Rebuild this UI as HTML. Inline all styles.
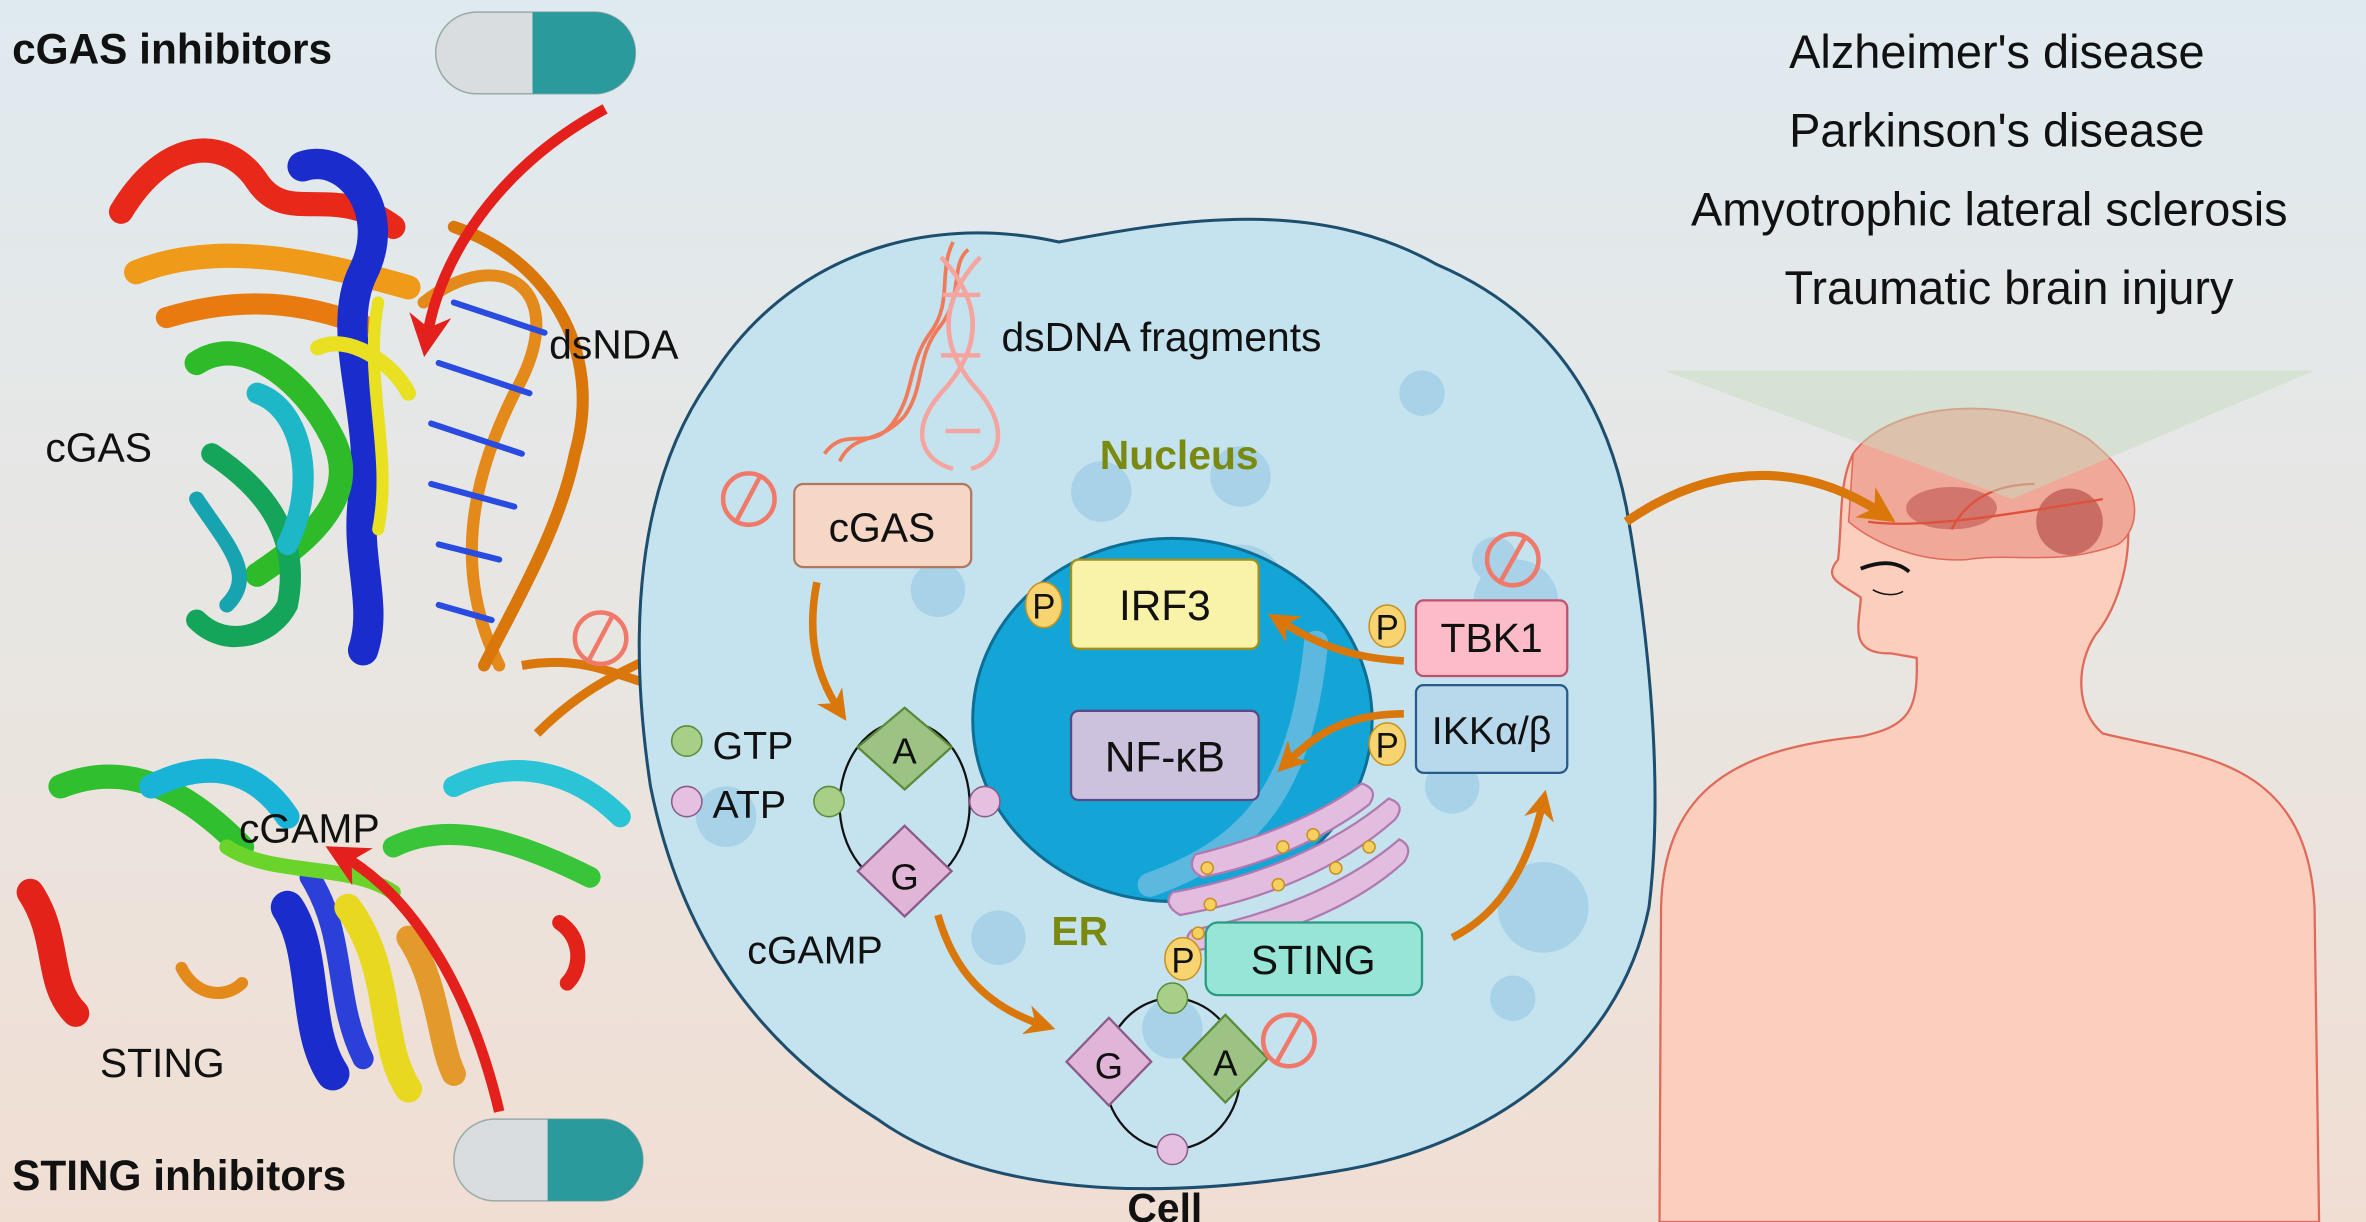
<!DOCTYPE html>
<html><head><meta charset="utf-8"><style>
html,body{margin:0;padding:0;width:2366px;height:1222px;overflow:hidden}
svg{display:block}
text{font-family:"Liberation Sans",sans-serif}
</style></head><body>
<svg width="2366" height="1222" viewBox="0 0 1564 808" preserveAspectRatio="none" xmlns="http://www.w3.org/2000/svg">
<defs>
<linearGradient id="bg" x1="0" y1="0" x2="0" y2="1">
<stop offset="0" stop-color="#dfeaf0"/><stop offset="0.5" stop-color="#e8e6e2"/><stop offset="1" stop-color="#f1ded3"/>
</linearGradient>
<marker id="ar" viewBox="0 0 10 10" refX="6" refY="5" markerWidth="4" markerHeight="4" orient="auto"><path d="M0,0 L10,5 L0,10 L3,5 Z" fill="#d9770a"/></marker>
<marker id="rr" viewBox="0 0 10 10" refX="6" refY="5" markerWidth="4" markerHeight="4" orient="auto"><path d="M0,0 L10,5 L0,10 L3,5 Z" fill="#e3201b"/></marker>
</defs>
<rect width="1564" height="808" fill="url(#bg)"/>

<!-- proteins (abstract) -->
<g fill="none" stroke-linecap="round">
<path d="M80,140 C110,90 150,90 170,120 C190,150 220,120 260,150" stroke="#e8291a" stroke-width="16"/>
<path d="M90,180 C140,160 200,170 270,190" stroke="#f09a1a" stroke-width="16"/>
<path d="M110,210 C160,195 200,200 240,215" stroke="#e87a10" stroke-width="14"/>
<path d="M200,110 C230,100 260,140 240,180 C220,220 250,280 240,330 C235,370 250,400 240,430" stroke="#1a2ccc" stroke-width="20"/>
<path d="M130,240 C160,220 200,250 220,290 C240,330 200,360 170,380" stroke="#2dbb2a" stroke-width="16"/>
<path d="M140,300 C170,320 200,350 190,400 C180,420 150,430 130,410" stroke="#15a55a" stroke-width="14"/>
<path d="M170,260 C200,270 210,320 190,360" stroke="#1eb7c8" stroke-width="14"/>
<path d="M130,330 C150,360 170,380 150,400" stroke="#17a3b0" stroke-width="10"/>
<path d="M210,230 C230,220 260,240 270,260" stroke="#e8e020" stroke-width="10"/>
<path d="M250,200 C240,250 260,300 250,350" stroke="#e8e020" stroke-width="8"/>
<path d="M280,200 C330,160 380,190 340,260 C310,320 300,380 330,440" stroke="#e38a1b" stroke-width="8"/>
<path d="M300,150 C360,170 400,230 380,300 C370,350 340,400 320,440" stroke="#d9770a" stroke-width="8"/>
<path d="M300,200 L360,220 M290,240 L350,260 M285,280 L345,300 M285,320 L340,335 M290,360 L330,370 M290,400 L325,410" stroke="#2a4be0" stroke-width="4"/>
<path d="M40,520 C90,500 130,530 160,560" stroke="#2fbf2f" stroke-width="16"/>
<path d="M100,520 C140,500 170,510 190,540" stroke="#1ab3d8" stroke-width="16"/>
<path d="M300,520 C340,500 380,510 410,540" stroke="#2bc3d6" stroke-width="14"/>
<path d="M260,560 C300,540 350,560 390,580" stroke="#39c539" stroke-width="14"/>
<path d="M190,600 C210,630 200,680 220,710" stroke="#1a2ccc" stroke-width="22"/>
<path d="M205,580 C230,620 220,660 240,700" stroke="#2a40d8" stroke-width="14"/>
<path d="M230,600 C260,640 250,690 270,720" stroke="#e8d820" stroke-width="18"/>
<path d="M270,620 C290,650 290,690 300,710" stroke="#e39a2a" stroke-width="16"/>
<path d="M20,590 C40,620 30,650 50,670" stroke="#e3221a" stroke-width="18"/>
<path d="M370,610 C385,620 385,640 375,650" stroke="#e3221a" stroke-width="10"/>
<path d="M120,640 C130,660 150,660 160,650" stroke="#e38a1b" stroke-width="8"/>
<path d="M150,560 C180,580 230,570 260,590" stroke="#6ad42a" stroke-width="10"/>
</g>
<path d="M400,72 C330,110 290,170 282,225" fill="none" stroke="#e3201b" stroke-width="7" marker-end="url(#rr)"/>
<path d="M330,735 C310,650 270,590 225,565" fill="none" stroke="#e3201b" stroke-width="7" marker-end="url(#rr)"/>

<!-- pills -->
<g><rect x="288" y="8" width="132" height="54" rx="27" fill="#d9dde0" stroke="#9aa" stroke-width="1"/><path d="M352,8 H393 A27,27 0 0 1 393,62 H352 Z" fill="#2a9a9c"/></g>
<g><rect x="300" y="740" width="125" height="54" rx="27" fill="#d9dde0" stroke="#9aa" stroke-width="1"/><path d="M362,740 H398 A27,27 0 0 1 398,794 H362 Z" fill="#2a9a9c"/></g>
<text x="8" y="42" font-size="28" font-weight="bold" fill="#111">cGAS inhibitors</text>
<text x="8" y="787" font-size="28" font-weight="bold" fill="#111">STING inhibitors</text>
<text x="363" y="237" font-size="27" fill="#111">dsNDA</text>
<text x="30" y="305" font-size="27" fill="#111">cGAS</text>
<text x="158" y="557" font-size="27" fill="#111">cGAMP</text>
<text x="66" y="712" font-size="27" fill="#111">STING</text>

<!-- arrows left into cell -->
<path d="M345,440 C400,430 420,460 462,455" fill="none" stroke="#d9770a" stroke-width="6" marker-end="url(#ar)"/>
<path d="M355,485 C390,450 420,440 460,422" fill="none" stroke="#d9770a" stroke-width="6" marker-end="url(#ar)"/>
<g fill="none" stroke="#f0796a" stroke-width="3"><circle cx="397" cy="422" r="17"/><line x1="389" y1="437" x2="405" y2="407"/></g>

<!-- cell -->
<path d="M470,250 C520,170 610,140 700,160 C780,145 870,130 950,175 C1020,205 1060,260 1075,335 C1090,420 1100,520 1090,600 C1070,700 980,760 880,775 C760,795 650,790 580,740 C500,690 450,620 430,520 C415,420 420,320 470,250 Z" fill="#c5e3ef" stroke="#1d4e6e" stroke-width="2"/>
<g fill="#a8d2e8">
<circle cx="820" cy="315" r="20"/><circle cx="820" cy="390" r="30"/><circle cx="988" cy="370" r="15"/><circle cx="1002" cy="398" r="28"/><circle cx="620" cy="390" r="18"/><circle cx="728" cy="325" r="20"/><circle cx="1020" cy="600" r="30"/><circle cx="660" cy="620" r="18"/><circle cx="960" cy="520" r="18"/><circle cx="940" cy="260" r="15"/><circle cx="480" cy="540" r="20"/><circle cx="775" cy="680" r="20"/><circle cx="1000" cy="660" r="15"/>
</g>
<ellipse cx="775" cy="476" rx="132" ry="120" fill="#12a5d6" stroke="#0e6e95" stroke-width="2"/>
<path d="M870,425 C860,520 830,560 760,585" fill="none" stroke="#5cb8df" stroke-width="16" stroke-linecap="round"/>

<!-- dsDNA fragments -->
<g fill="none" stroke="#f07a5a" stroke-width="2.5">
<path d="M545,300 C560,280 575,300 590,280 C605,260 600,240 615,220 C630,200 620,180 630,160"/>
<path d="M555,305 C565,285 580,295 598,275 C612,255 605,235 622,215 C637,195 628,175 640,165"/>
</g>
<g fill="none" stroke="#f5a5a0" stroke-width="3">
<path d="M622,170 C650,200 650,230 622,260 C600,285 610,305 630,310"/>
<path d="M648,170 C620,200 620,230 648,260 C668,285 660,305 642,310"/>
<path d="M623,195 H648 M622,235 H648 M625,285 H648"/>
</g>
<text x="662" y="232" font-size="27" fill="#111">dsDNA fragments</text>
<text x="727" y="310" font-size="27" font-weight="bold" fill="#7a8a10">Nucleus</text>

<!-- cGAS -->
<rect x="525" y="320" width="117" height="55" rx="6" fill="#f6d6c5" stroke="#b07860" stroke-width="1.5"/>
<text x="583" y="358" font-size="27" text-anchor="middle" fill="#111">cGAS</text>
<g fill="none" stroke="#f0796a" stroke-width="3"><circle cx="495" cy="330" r="17"/><line x1="486" y1="346" x2="503" y2="314"/></g>

<path d="M540,385 C535,410 535,440 555,470" fill="none" stroke="#d9770a" stroke-width="5" marker-end="url(#ar)"/>

<!-- cGAMP ring -->
<ellipse cx="598" cy="532" rx="43" ry="55" fill="none" stroke="#111" stroke-width="1.5"/>
<polygon points="598,468 629,494 598,522 567,494" fill="#9cc383" stroke="#5b8a3a" stroke-width="1.5"/>
<text x="598" y="505" font-size="24" text-anchor="middle" fill="#111">A</text>
<polygon points="598,546 629,576 598,606 567,576" fill="#e0b5d8" stroke="#8a5a8a" stroke-width="1.5"/>
<text x="598" y="588" font-size="24" text-anchor="middle" fill="#111">G</text>
<circle cx="548" cy="530" r="10" fill="#a8cf88" stroke="#5b8a3a"/>
<circle cx="651" cy="530" r="10" fill="#e6c0e0" stroke="#8a5a8a"/>
<circle cx="454" cy="490" r="10" fill="#a8cf88" stroke="#5b8a3a"/>
<circle cx="454" cy="530" r="10" fill="#e6c0e0" stroke="#8a5a8a"/>
<text x="471" y="502" font-size="26" fill="#111">GTP</text>
<text x="471" y="541" font-size="26" fill="#111">ATP</text>
<text x="494" y="637" font-size="26" fill="#111">cGAMP</text>
<path d="M620,605 C630,640 650,665 690,678" fill="none" stroke="#d9770a" stroke-width="5" marker-end="url(#ar)"/>

<!-- bottom ring -->
<ellipse cx="775" cy="710" rx="45" ry="50" fill="none" stroke="#111" stroke-width="1.5"/>
<polygon points="733,673 761,702 733,731 705,702" fill="#e0b5d8" stroke="#8a5a8a" stroke-width="1.5"/>
<text x="733" y="713" font-size="24" text-anchor="middle" fill="#111">G</text>
<polygon points="810,671 838,700 810,729 782,700" fill="#9cc383" stroke="#5b8a3a" stroke-width="1.5"/>
<text x="810" y="711" font-size="24" text-anchor="middle" fill="#111">A</text>
<circle cx="775" cy="660" r="10" fill="#a8cf88" stroke="#5b8a3a"/>
<circle cx="775" cy="760" r="10" fill="#e6c0e0" stroke="#8a5a8a"/>
<g fill="none" stroke="#f0796a" stroke-width="3"><circle cx="852" cy="688" r="17"/><line x1="843" y1="704" x2="861" y2="672"/></g>
<text x="770" y="808" font-size="27" font-weight="bold" text-anchor="middle" fill="#111">Cell</text>

<!-- ER -->
<g fill="#e3bddf" stroke="#b07ab0" stroke-width="1.5">
<path d="M790,565 C830,555 870,540 900,518 Q912,522 905,532 C875,555 835,572 795,580 Q784,575 790,565 Z"/>
<path d="M775,590 C830,580 880,560 918,528 Q930,532 922,542 C885,575 835,595 780,605 Q768,598 775,590 Z"/>
<path d="M788,615 C840,605 890,585 925,555 Q935,560 928,570 C895,600 845,620 793,628 Q780,622 788,615 Z"/>
</g>
<g fill="#f5d060" stroke="#c89020" stroke-width="1"><circle cx="798" cy="574" r="4"/><circle cx="848" cy="560" r="4"/><circle cx="868" cy="552" r="4"/><circle cx="845" cy="585" r="4"/><circle cx="883" cy="574" r="4"/><circle cx="905" cy="560" r="4"/><circle cx="800" cy="598" r="4"/><circle cx="792" cy="617" r="4"/></g>
<text x="695" y="625" font-size="27" font-weight="bold" fill="#7a8a10">ER</text>

<!-- STING -->
<rect x="797" y="610" width="143" height="48" rx="8" fill="#97e5d6" stroke="#2a9a80" stroke-width="1.5"/>
<text x="868" y="644" font-size="27" text-anchor="middle" fill="#111">STING</text>
<ellipse cx="782" cy="634" rx="12" ry="14" fill="#f8d470" stroke="#c89020"/>
<text x="782" y="643" font-size="23" text-anchor="middle" fill="#111">P</text>
<path d="M960,620 C990,605 1010,575 1020,530" fill="none" stroke="#d9770a" stroke-width="5" marker-end="url(#ar)"/>

<!-- IRF3 -->
<rect x="708" y="370" width="124" height="59" rx="5" fill="#f8f3a8" stroke="#a09020" stroke-width="1.5"/>
<text x="770" y="410" font-size="28" text-anchor="middle" fill="#111">IRF3</text>
<ellipse cx="690" cy="400" rx="12" ry="15" fill="#f8d470" stroke="#c89020"/>
<text x="690" y="409" font-size="23" text-anchor="middle" fill="#111">P</text>
<!-- NF-kB -->
<rect x="708" y="470" width="124" height="59" rx="5" fill="#cdc2de" stroke="#5a4a8a" stroke-width="1.5"/>
<text x="770" y="510" font-size="28" text-anchor="middle" fill="#111">NF-κB</text>
<!-- TBK1 -->
<rect x="936" y="397" width="100" height="50" rx="5" fill="#fbbcc8" stroke="#c05070" stroke-width="1.5"/>
<text x="986" y="431" font-size="27" text-anchor="middle" fill="#111">TBK1</text>
<ellipse cx="917" cy="414" rx="12" ry="14" fill="#f8d470" stroke="#c89020"/>
<text x="917" y="423" font-size="23" text-anchor="middle" fill="#111">P</text>
<path d="M928,437 C890,435 870,425 845,410" fill="none" stroke="#d9770a" stroke-width="5" marker-end="url(#ar)"/>
<g fill="none" stroke="#f0796a" stroke-width="3"><circle cx="1000" cy="370" r="17"/><line x1="991" y1="386" x2="1009" y2="354"/></g>
<!-- IKK -->
<rect x="936" y="453" width="100" height="58" rx="5" fill="#b8d8ec" stroke="#2a5a8a" stroke-width="1.5"/>
<text x="986" y="492" font-size="26" text-anchor="middle" fill="#111">IKKα/β</text>
<ellipse cx="917" cy="492" rx="12" ry="14" fill="#f8d470" stroke="#c89020"/>
<text x="917" y="501" font-size="23" text-anchor="middle" fill="#111">P</text>
<path d="M928,472 C890,472 870,485 850,505" fill="none" stroke="#d9770a" stroke-width="5" marker-end="url(#ar)"/>

<!-- disease text -->
<g font-size="31" fill="#111" text-anchor="middle">
<text x="1320" y="45">Alzheimer's disease</text>
<text x="1320" y="97">Parkinson's disease</text>
<text x="1315" y="149">Amyotrophic lateral sclerosis</text>
<text x="1328" y="201">Traumatic brain injury</text>
</g>

<!-- human -->
<path d="M1097,808 L1098,600 C1100,520 1150,495 1230,487 C1262,480 1268,470 1267,435 L1250,432 C1220,433 1230,410 1230,395 C1215,385 1205,382 1215,370 C1218,345 1215,320 1225,300 C1250,265 1330,260 1380,290 C1420,320 1410,390 1385,420 C1372,440 1372,470 1390,485 C1450,500 1525,500 1530,600 L1533,808 Z" fill="#fbcebd" stroke="#e06a5a" stroke-width="1.5"/>
<path d="M1225,300 C1250,265 1330,260 1380,290 C1420,320 1415,350 1400,360 C1360,375 1330,365 1300,370 C1270,372 1240,360 1222,345 Z" fill="#f0a898" stroke="#e06a5a" stroke-width="1"/>
<ellipse cx="1290" cy="336" rx="30" ry="14" fill="#b84a4a" opacity="0.55"/>
<ellipse cx="1368" cy="345" rx="22" ry="22" fill="#a83a3a" opacity="0.55"/>
<path d="M1235,345 C1270,350 1330,340 1390,330 M1290,350 C1300,330 1320,320 1345,320" fill="none" stroke="#e0503a" stroke-width="1.5"/>
<path d="M1230,376 C1245,370 1255,372 1262,378" stroke="#111" stroke-width="2.5" fill="none"/>
<path d="M1238,390 C1245,394 1253,394 1258,391" stroke="#111" stroke-width="1" fill="none"/>
<polygon points="1100,245 1530,245 1330,330" fill="#c8dcc0" opacity="0.5"/>
<path d="M1075,345 C1140,300 1200,310 1245,340" fill="none" stroke="#d9770a" stroke-width="6" marker-end="url(#ar)"/>
</svg>
</body></html>
